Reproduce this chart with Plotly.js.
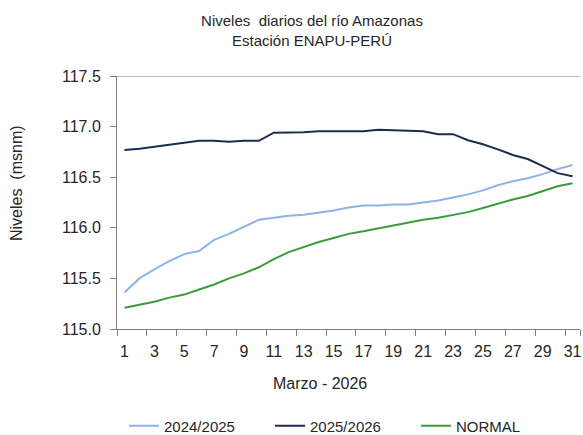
<!DOCTYPE html>
<html>
<head>
<meta charset="utf-8">
<script src="https://cdn.plot.ly/plotly-3.0.1.min.js"></script>
<style>html,body{margin:0;padding:0;background:#fff;}#chart{width:583px;height:435px;}</style>
</head>
<body>
<div id="chart"></div>
<script>
const days = Array.from({length: 31}, (_, i) => i + 1);
const xTickLabels = ['1','3','5','7','9','11','13','15','17','19','21','23','25','27','29','31'];
const yTickLabels = ['115.0','115.5','116.0','116.5','117.0','117.5'];

const serie2024_2025 = [115.36, 115.50, 115.59, 115.67, 115.74, 115.77, 115.88, 115.94, 116.01, 116.08,
  116.10, 116.12, 116.13, 116.15, 116.17, 116.20, 116.22, 116.22, 116.23, 116.23,
  116.25, 116.27, 116.30, 116.33, 116.37, 116.42, 116.46, 116.49, 116.53, 116.58, 116.62];

const serie2025_2026 = [116.77, 116.78, 116.80, 116.82, 116.84, 116.86, 116.86, 116.85, 116.86, 116.86,
  116.94, 116.94, 116.945, 116.955, 116.955, 116.955, 116.955, 116.97, 116.965, 116.965,
  116.955, 116.925, 116.925, 116.865, 116.825, 116.775, 116.72, 116.68, 116.61, 116.54, 116.51];

const serieNormal = [115.21, 115.24, 115.27, 115.31, 115.34, 115.39, 115.44, 115.50, 115.55, 115.61,
  115.69, 115.76, 115.81, 115.86, 115.90, 115.94, 115.965, 115.995, 116.02, 116.05,
  116.08, 116.10, 116.13, 116.155, 116.195, 116.24, 116.28, 116.315, 116.36, 116.41, 116.44];

const seriesNames = ['2024/2025', '2025/2026', 'NORMAL'];
const seriesColors = ['#8DB4E6', '#1C2E4C', '#3A9C3A'];
const seriesData = [serie2024_2025, serie2025_2026, serieNormal];

const traces = seriesData.map((vals, i) => ({
  x: days, y: vals, type: 'scatter', mode: 'lines', name: seriesNames[i],
  line: {color: seriesColors[i], width: 2}, xaxis: 'x', yaxis: 'y'
}));

// invisible trace to carry the boundary tick marks axis
traces.push({x: [days[0]], y: [Number(yTickLabels[0])], xaxis: 'x2', yaxis: 'y', mode: 'none',
  showlegend: false, hoverinfo: 'skip', type: 'scatter'});

const boundaryTicks = xTickLabels.map(v => Number(v) - 0.5).concat([31.5]);

const axisColor = '#7F7F7F';
const font = 'Liberation Sans, Arial, sans-serif';
const W = 583, H = 435, ML = 117, MR = 3, MT = 76, MB = 106;
const PW = W - ML - MR, PH = H - MT - MB;

const layout = {
  width: W, height: H,
  margin: {l: ML, r: MR, t: MT, b: MB, autoexpand: false},
  paper_bgcolor: '#fff', plot_bgcolor: '#fff',
  font: {family: font, color: '#262626'},
  title: {text: 'Niveles  diarios del río Amazonas<br>Estación ENAPU-PERÚ',
    font: {size: 15, color: '#262626', family: font},
    x: 312 / W, xref: 'container', xanchor: 'center', y: 1 - 26 / H, yref: 'container', yanchor: 'middle'},
  xaxis: {
    range: [0.5, 31.5], tickmode: 'array', tickvals: xTickLabels.map(Number), ticktext: xTickLabels,
    ticks: '', showgrid: false, zeroline: false, showline: true, linecolor: axisColor, linewidth: 1,
    tickfont: {size: 16, color: '#262626'}, ticklabelstandoff: 8, fixedrange: true, automargin: false
  },
  xaxis2: {
    overlaying: 'x', matches: 'x', range: [0.5, 31.5], tickmode: 'array', tickvals: boundaryTicks,
    ticks: 'outside', ticklen: 6, tickcolor: axisColor, showticklabels: false, showgrid: false,
    zeroline: false, showline: false, side: 'bottom', anchor: 'y', automargin: false
  },
  yaxis: {
    range: [115, 117.5], tickmode: 'array', tickvals: yTickLabels.map(Number), ticktext: yTickLabels,
    ticks: 'outside', ticklen: 6, tickcolor: axisColor, showgrid: false, zeroline: false,
    showline: true, linecolor: axisColor, linewidth: 1, automargin: false,
    tickfont: {size: 16, color: '#262626'}, ticklabelstandoff: 6
  },
  shapes: [{type: 'line', xref: 'paper', yref: 'y', x0: 0, x1: 1, y0: 117.5, y1: 117.5,
    line: {color: '#A6A6A6', width: 1.5}}],
  annotations: [
    {text: 'Marzo - 2026', xref: 'paper', yref: 'paper', x: (320 - ML) / PW, y: (H - MB - 383) / PH,
      xanchor: 'center', yanchor: 'middle', showarrow: false, font: {size: 16, color: '#262626'}},
    {text: 'Niveles  (msnm)', xref: 'paper', yref: 'paper', x: (16 - ML) / PW, y: (H - MB - 183) / PH,
      xanchor: 'center', yanchor: 'middle', textangle: -90, showarrow: false,
      font: {size: 16, color: '#262626'}}
  ],
  showlegend: true,
  legend: {orientation: 'h', xref: 'container', yref: 'container', x: 124 / W, xanchor: 'left',
    y: (H - 426) / H, yanchor: 'middle',
    entrywidth: 101, entrywidthmode: 'pixels', font: {size: 15, color: '#262626'},
    bgcolor: 'rgba(0,0,0,0)', tracegroupgap: 0, itemwidth: 30}
};

Plotly.newPlot('chart', traces, layout, {displayModeBar: false, staticPlot: true});
</script>
</body>
</html>
